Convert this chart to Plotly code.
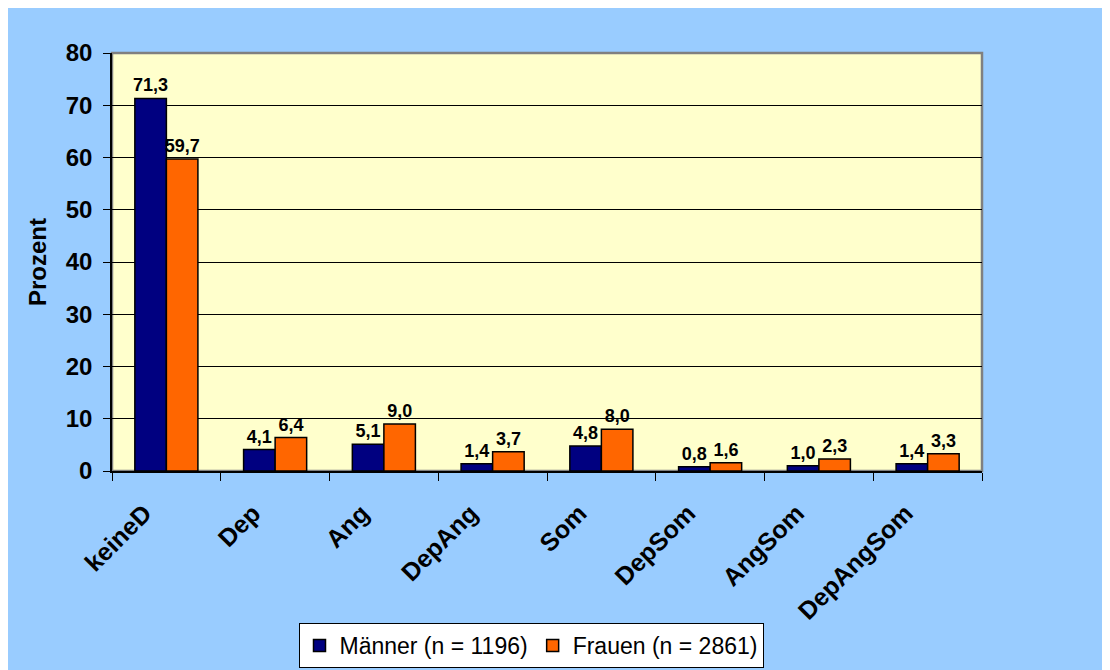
import plotly.graph_objects as go

categories = ["keineD", "Dep", "Ang", "DepAng", "Som", "DepSom", "AngSom", "DepAngSom"]
maenner = [71.3, 4.1, 5.1, 1.4, 4.8, 0.8, 1.0, 1.4]
frauen = [59.7, 6.4, 9.0, 3.7, 8.0, 1.6, 2.3, 3.3]
series_names = ["Männer (n = 1196)", "Frauen (n = 2861)"]
y_ticks = [0, 10, 20, 30, 40, 50, 60, 70, 80]

def fmt(v):
    return f"{v:.1f}".replace(".", ",")

FONT = "Liberation Sans, Arial, sans-serif"
W, H = 1102, 662
L, T = 104, 45
pw, ph = 870, 418
R, B = W - L - pw, H - T - ph

fig = go.Figure()
for name, vals, col in [(series_names[0], maenner, "#000080"), (series_names[1], frauen, "#FF6600")]:
    fig.add_trace(go.Bar(
        x=categories, y=vals, name=name,
        marker=dict(color=col, line=dict(color="black", width=1.5)),
        text=[fmt(v) for v in vals], textposition="outside",
        textfont=dict(family=FONT, size=18, color="black", weight="bold"),
        cliponaxis=False, constraintext="none",
    ))

# plot area border (grey top/right)
fig.add_shape(type="rect", xref="paper", yref="paper", x0=0, x1=1, y0=0, y1=1,
              fillcolor="rgba(0,0,0,0)", line=dict(color="#808080", width=2.5), layer="below")

fig.update_layout(
    width=W, height=H,
    margin=dict(l=L, r=R, t=T, b=B, pad=0, autoexpand=False),
    paper_bgcolor="#99CCFF", plot_bgcolor="#FFFFCC",
    barmode="group", bargap=0.42, bargroupgap=0,
    font=dict(family=FONT, color="black"),
    showlegend=True,
    legend=dict(orientation="h", xref="container", yref="container",
                x=523 / W, xanchor="center",
                y=(H - 660) / H, yanchor="bottom",
                bgcolor="white", bordercolor="black", borderwidth=1,
                font=dict(size=23, family=FONT, color="black"),
                traceorder="normal", itemwidth=30, tracegroupgap=0),
    xaxis=dict(
        tickangle=-45, ticks="outside", tickson="boundaries", ticklen=8,
        tickcolor="black", showline=True, linecolor="black", linewidth=1.5,
        tickfont=dict(size=25, weight="bold", family=FONT),
        ticklabelstandoff=16, ticklabelshift=-22,
        showgrid=False, automargin=False,
    ),
    yaxis=dict(
        range=[0, 80], tickvals=y_ticks, ticktext=[str(v) for v in y_ticks],
        ticks="outside", ticklen=7, tickcolor="black",
        showline=True, linecolor="black", linewidth=1.5,
        showgrid=True, gridcolor="black", gridwidth=1,
        zeroline=False, ticklabelstandoff=6, automargin=False,
        tickfont=dict(size=24, weight="bold", family=FONT),
        title=dict(text="Prozent", font=dict(size=24, weight="bold", family=FONT), standoff=12),
    ),
)

fig.write_html("out.html")
